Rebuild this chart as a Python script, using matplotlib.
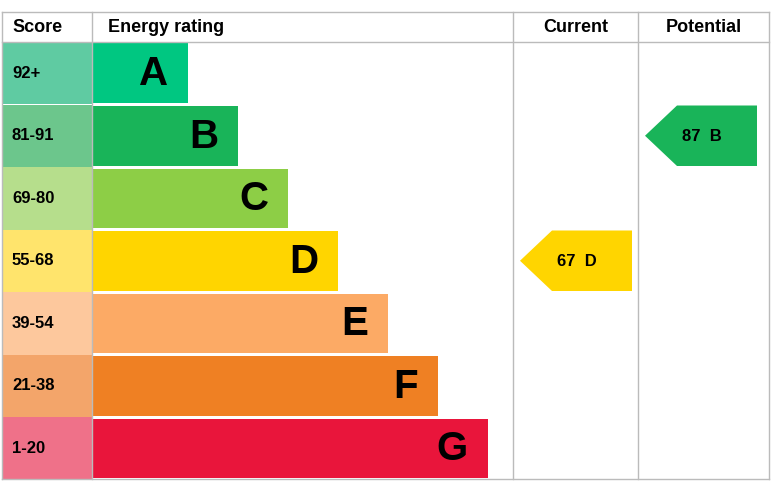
import matplotlib
matplotlib.use("Agg")
import matplotlib.pyplot as plt
from matplotlib.patches import Rectangle, Polygon

bands = ["A", "B", "C", "D", "E", "F", "G"]
scores = ["92+", "81-91", "69-80", "55-68", "39-54", "21-38", "1-20"]
bar_colors = ["#00c781", "#19b459", "#8dce46", "#ffd500", "#fcaa65", "#ef8023", "#e9153b"]
score_colors = ["#5fcba2", "#6cc68c", "#b6de8c", "#ffe46c", "#fdc89d", "#f3a56a", "#ef7189"]
bar_ends = [188, 238, 288, 338, 388, 438, 488]
current_value, current_band = 67, "D"
potential_value, potential_band = 87, "B"

plt.rcParams['font.family'] = ['Liberation Sans', 'DejaVu Sans']
fig = plt.figure(figsize=(7.72, 4.86), dpi=100)
ax = fig.add_axes([0, 0, 1, 1])
ax.set_xlim(0, 772)
ax.set_ylim(486, 0)
ax.axis('off')

top, head, rowh = 12, 42, 62.5
x_score, x_bar, x_cur, x_pot, x_end = 2, 92, 513, 638, 769
grey = "#bbbbbb"

for i, b in enumerate(bands):
    y0 = head + i * rowh
    ax.add_patch(Rectangle((x_score, y0), x_bar - x_score, rowh, color=score_colors[i], lw=0))
    ax.add_patch(Rectangle((x_bar, y0 + 1.5), bar_ends[i] - x_bar, rowh - 3, color=bar_colors[i], lw=0))
    ax.text(12, y0 + rowh / 2, scores[i], fontsize=12, fontweight='bold', va='center', ha='left')
    ax.text(bar_ends[i] - 20, y0 + rowh / 2 + 1, b, fontsize=29, fontweight='bold', va='center', ha='right')

# grid lines
for x in [x_score, x_bar, x_cur, x_pot, x_end]:
    ax.plot([x, x], [top, 479], color=grey, lw=1)
ax.plot([x_score, x_end], [top, top], color=grey, lw=1)
ax.plot([x_score, x_end], [head, head], color=grey, lw=1)
ax.plot([x_score, x_end], [479, 479], color=grey, lw=1)

for x, t in [(x_score + 10, "Score"), (x_bar + 16, "Energy rating")]:
    ax.text(x, 27, t, fontsize=13, fontweight='bold', va='center', ha='left')
ax.text((x_cur + x_pot) / 2, 27, "Current", fontsize=13, fontweight='bold', va='center', ha='center')
ax.text((x_pot + x_end) / 2, 27, "Potential", fontsize=13, fontweight='bold', va='center', ha='center')

def arrow(x0, x1, band, value):
    i = bands.index(band)
    y0 = head + i * rowh + 1
    y1 = y0 + rowh - 2
    ym = (y0 + y1) / 2
    ax.add_patch(Polygon([(x0, ym), (x0 + 32, y0), (x1, y0), (x1, y1), (x0 + 32, y1)],
                         closed=True, color=bar_colors[i], lw=0))
    ax.text(x0 + 37, ym + 1, f"{value}  {band}", fontsize=12, fontweight='bold', va='center', ha='left')

arrow(520, 632, current_band, current_value)
arrow(645, 757, potential_band, potential_value)

fig.savefig("out.png", dpi=100)
